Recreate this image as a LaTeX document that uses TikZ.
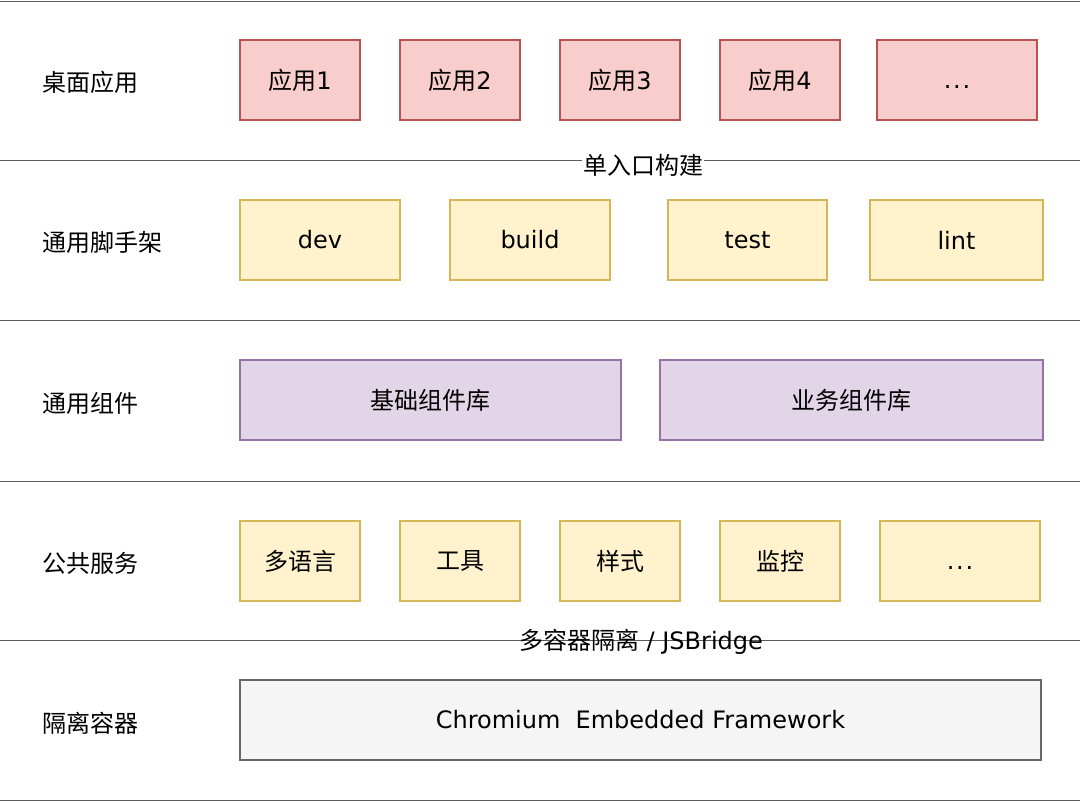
\documentclass[tikz,border=0pt]{standalone}
\usepackage{fontspec}
\setmainfont{DejaVu Sans}[Ligatures=NoCommon]
\newfontfamily\cjk{Noto Sans CJK SC}
\definecolor{redfill}{HTML}{F8CECC}
\definecolor{redline}{HTML}{B85450}
\definecolor{yelfill}{HTML}{FFF2CC}
\definecolor{yelline}{HTML}{D6B656}
\definecolor{purfill}{HTML}{E1D5E7}
\definecolor{purline}{HTML}{9673A6}
\definecolor{grfill}{HTML}{F5F5F5}
\definecolor{grline}{HTML}{666666}
\definecolor{sepline}{HTML}{5A5A5A}
\newcommand{\tdots}{\vphantom{d}.\kern1.8pt.\kern1.8pt.}
\tikzset{
  box/.style={draw, line width=1.5pt, minimum height=80pt, inner sep=0pt, font=\fontsize{24}{28}\selectfont, text=black},
  redbox/.style={box, fill=redfill, draw=redline},
  yelbox/.style={box, fill=yelfill, draw=yelline},
  purbox/.style={box, fill=purfill, draw=purline},
  grbox/.style={box, fill=grfill, draw=grline},
  rowlabel/.style={anchor=west, inner sep=0pt, font=\fontsize{24}{28}\selectfont\cjk},
  sep/.style={draw=sepline, line width=1pt},
}
\begin{document}
\begin{tikzpicture}[x=1pt,y=-1pt]
\useasboundingbox (0,0) rectangle (1083,803);
% separators
\coordinate (s0l) at (0,1); \coordinate (s0r) at (1080,1);
\coordinate (s1l) at (0,160); \coordinate (s1r) at (1080,160);
\coordinate (s2l) at (0,320.5); \coordinate (s2r) at (1080,320.5);
\coordinate (s3l) at (0,481); \coordinate (s3r) at (1080,481);
\coordinate (s4l) at (0,640.5); \coordinate (s4r) at (1080,640.5);
\coordinate (s5l) at (0,800.5); \coordinate (s5r) at (1080,800.5);
\foreach \i in {0,...,5} { \draw[sep] (s\i l) -- (s\i r); }

% row labels
\node[rowlabel] (l1) at (42,82) {桌面应用};
\node[rowlabel] (l2) at (42,242) {通用脚手架};
\node[rowlabel] (l3) at (42,403) {通用组件};
\node[rowlabel] (l4) at (42,563) {公共服务};
\node[rowlabel] (l5) at (42,723) {隔离容器};

% row 1
\node[redbox, minimum width=120pt] (a1) at (300,80) {{\cjk 应用}1};
\node[redbox, minimum width=120pt] (a2) at (460,80) {{\cjk 应用}2};
\node[redbox, minimum width=120pt] (a3) at (620,80) {{\cjk 应用}3};
\node[redbox, minimum width=120pt] (a4) at (780,80) {{\cjk 应用}4};
\node[redbox, minimum width=160pt] (a5) at (957,80) {\tdots};

\node[fill=white, inner sep=1pt, font=\fontsize{24}{28}\selectfont\cjk] (t1) at (643,165) {单入口构建};

% row 2
\node[yelbox, minimum width=160pt] (b1) at (320,240) {dev};
\node[yelbox, minimum width=160pt] (b2) at (530,240) {build};
\node[yelbox, minimum width=159pt] (b3) at (747.5,240) {test};
\node[yelbox, minimum width=173pt] (b4) at (956.5,240) {lint};

% row 3
\node[purbox, minimum width=381pt] (c1) at (430.5,400) {\cjk 基础组件库};
\node[purbox, minimum width=383pt] (c2) at (851.5,400) {\cjk 业务组件库};

% row 4
\node[yelbox, minimum width=120pt] (d1) at (300,561) {\cjk 多语言};
\node[yelbox, minimum width=120pt] (d2) at (460,561) {\cjk 工具};
\node[yelbox, minimum width=120pt] (d3) at (620,561) {\cjk 样式};
\node[yelbox, minimum width=120pt] (d4) at (780,561) {\cjk 监控};
\node[yelbox, minimum width=160pt] (d5) at (960,561) {\tdots};

\node[inner sep=1pt, font=\fontsize{24}{28}\selectfont] (t2) at (641,642) {{\cjk 多容器隔离} / JSBridge};

% row 5
\node[grbox, minimum width=801pt] (e1) at (640.5,720) {Chromium\ \ Embedded Framework};
\end{tikzpicture}
\end{document}
